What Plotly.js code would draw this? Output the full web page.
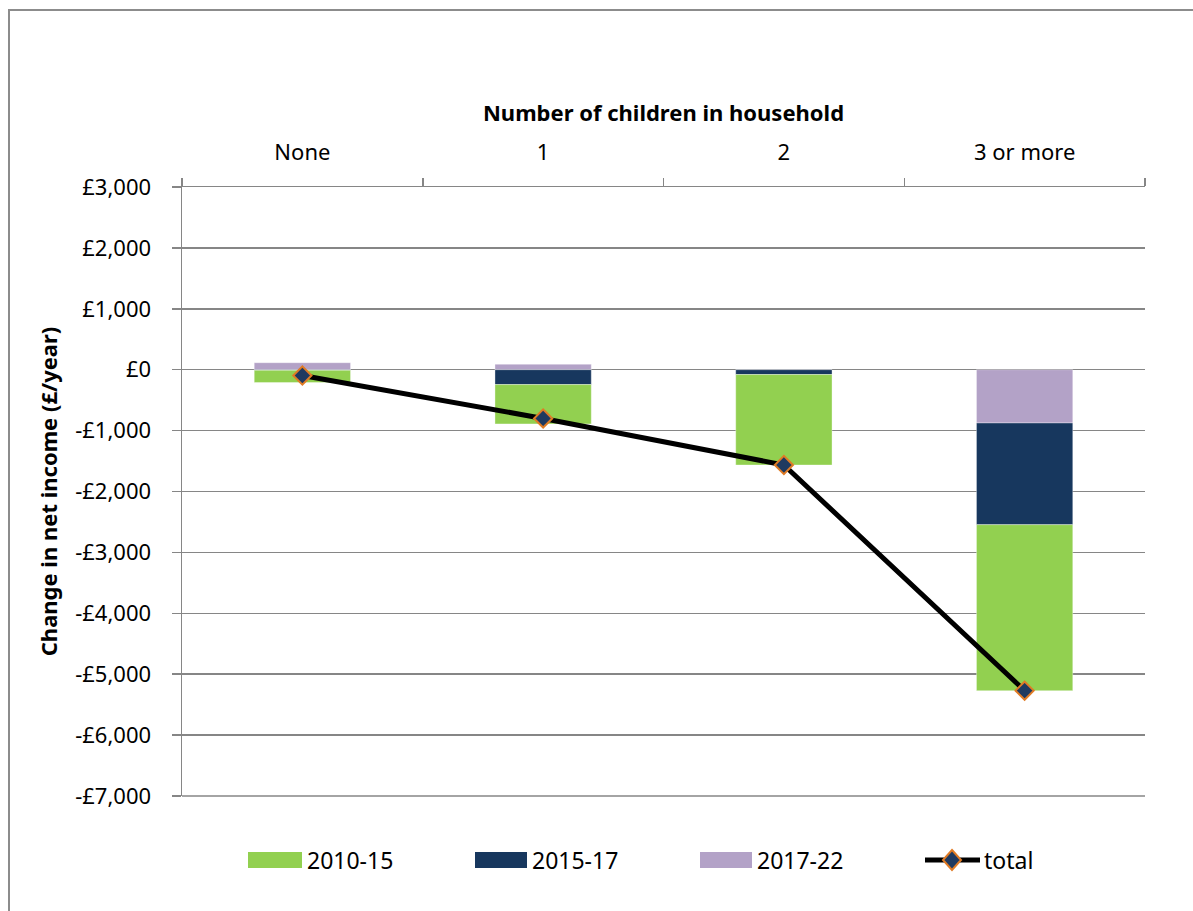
<!DOCTYPE html>
<html>
<head>
<meta charset="utf-8">
<script src="https://cdn.plot.ly/plotly-3.0.1.min.js"></script>
<style>
  html, body { margin: 0; padding: 0; background: #fff; }
  #frame { position: absolute; left: 8px; top: 9px; width: 1400px; height: 1100px; border: 2px solid #8c8c8c; box-sizing: border-box; }
  #chart { position: absolute; left: 0; top: 0; width: 1193px; height: 911px; }
</style>
</head>
<body>
<div id="frame"></div>
<div id="chart"></div>
<script>
const categories = ['None', '1', '2', '3 or more'];
const s2010_15 = [-200, -645, -1485, -2725];
const s2015_17 = [-10, -245, -80, -1670];
const s2017_22 = [115, 90, 0, -875];
const total = [-95, -800, -1565, -5270];
const yTickVals = [3000, 2000, 1000, 0, -1000, -2000, -3000, -4000, -5000, -6000, -7000];
const yTickText = ['£3,000', '£2,000', '£1,000', '£0', '-£1,000', '-£2,000', '-£3,000', '-£4,000', '-£5,000', '-£6,000', '-£7,000'];

const W = 1193, H = 911;
const L = 182, R = 1145, T = 187, B = 796;
const px = x => (x - L) / (R - L);
const py = y => (B - y) / (B - T);

const colors = { g: '#92D050', n: '#17375E', p: '#B3A2C7' };
const FONT = 'Noto Sans, Open Sans, sans-serif';
const GRID = '#868686';

const barLine = { color: 'rgba(255,255,255,0.35)', width: 1 };
const traces = [
  { type: 'bar', name: '2017-22', x: categories, y: s2017_22, marker: { color: colors.p, line: barLine }, hoverinfo: 'y' },
  { type: 'bar', name: '2015-17', x: categories, y: s2015_17, marker: { color: colors.n, line: barLine }, hoverinfo: 'y' },
  { type: 'bar', name: '2010-15', x: categories, y: s2010_15, marker: { color: colors.g, line: barLine }, hoverinfo: 'y' },
  { type: 'scatter', mode: 'lines+markers', name: 'total', x: categories, y: total,
    line: { color: '#000', width: 5 },
    marker: { symbol: 'diamond', size: 14, color: '#1F3A60', line: { color: '#E07B25', width: 2 } } },
  { type: 'scatter', x: categories, y: total, yaxis: 'y2', mode: 'none', hoverinfo: 'skip', showlegend: false }
];

const legY = py(860);
const shapes = [
  // bottom gridline at the axis minimum
  { type: 'line', xref: 'paper', yref: 'paper', x0: 0, x1: 1, y0: 0, y1: 0, line: { color: GRID, width: 1.5 }, layer: 'below' }
];
const annotations = [];
const legItems = [
  { c: colors.g, x0: 248, x1: 302, tx: 305, t: '2010-15' },
  { c: colors.n, x0: 475, x1: 527, tx: 530, t: '2015-17' },
  { c: colors.p, x0: 700, x1: 752, tx: 755, t: '2017-22' }
];
legItems.forEach(it => {
  shapes.push({ type: 'rect', xref: 'paper', yref: 'paper', x0: px(it.x0), x1: px(it.x1), y0: py(868), y1: py(852),
    fillcolor: it.c, line: { width: 0 } });
  annotations.push({ xref: 'paper', yref: 'paper', x: px(it.tx), y: legY, xanchor: 'left', yanchor: 'middle',
    text: it.t, showarrow: false, font: { family: FONT, size: 23, color: '#000' } });
});
shapes.push({ type: 'line', xref: 'paper', yref: 'paper', x0: px(925), x1: px(980), y0: legY, y1: legY,
  line: { color: '#000', width: 5 } });
shapes.push({ type: 'path', xref: 'paper', yref: 'paper',
  path: `M ${px(952)} ${py(850)} L ${px(961)} ${py(860)} L ${px(952)} ${py(870)} L ${px(943)} ${py(860)} Z`,
  fillcolor: '#1F3A60', line: { color: '#E07B25', width: 2 } });
annotations.push({ xref: 'paper', yref: 'paper', x: px(982), y: legY, xanchor: 'left', yanchor: 'middle',
  text: 'total', showarrow: false, font: { family: FONT, size: 23, color: '#000' } });

const layout = {
  width: W, height: H,
  margin: { l: L, r: W - R, t: T, b: H - B, pad: 0 },
  paper_bgcolor: 'rgba(0,0,0,0)', plot_bgcolor: 'rgba(0,0,0,0)',
  barmode: 'relative', bargap: 0.6,
  showlegend: false,
  font: { family: FONT, size: 22, color: '#000' },
  xaxis: {
    side: 'top', type: 'category', range: [-0.5, 3.5],
    ticks: 'outside', tickson: 'boundaries', ticklen: 8, tickcolor: GRID, tickwidth: 1.5,
    showline: true, linecolor: GRID, linewidth: 1.5,
    showgrid: false, ticklabelstandoff: 17,
    tickfont: { family: FONT, size: 22, color: '#000' },
    title: { text: '<b>Number of children in household</b>', font: { family: FONT, size: 22, color: '#000' }, standoff: 8 }
  },
  yaxis: {
    range: [-7000, 3000], tickvals: yTickVals, ticktext: yTickText,
    ticks: 'outside', ticklen: 9, tickcolor: GRID, tickwidth: 1.5,
    showline: true, linecolor: GRID, linewidth: 1.5,
    showgrid: true, gridcolor: GRID, gridwidth: 1.5,
    zeroline: false, ticklabelstandoff: 16,
    tickfont: { family: FONT, size: 22, color: '#000' },
    title: { text: '<b>Change in net income (£/year)</b>', font: { family: FONT, size: 22, color: '#000' }, standoff: 11 }
  },
  yaxis2: {
    overlaying: 'y', range: [-7000, 3000], tickvals: yTickVals, showticklabels: false,
    ticks: 'inside', ticklen: 8, tickcolor: GRID, tickwidth: 1.5,
    showgrid: false, zeroline: false, showline: false, side: 'left'
  },
  shapes: shapes,
  annotations: annotations
};

Plotly.newPlot('chart', traces, layout, { displayModeBar: false, staticPlot: true });
</script>
</body>
</html>
